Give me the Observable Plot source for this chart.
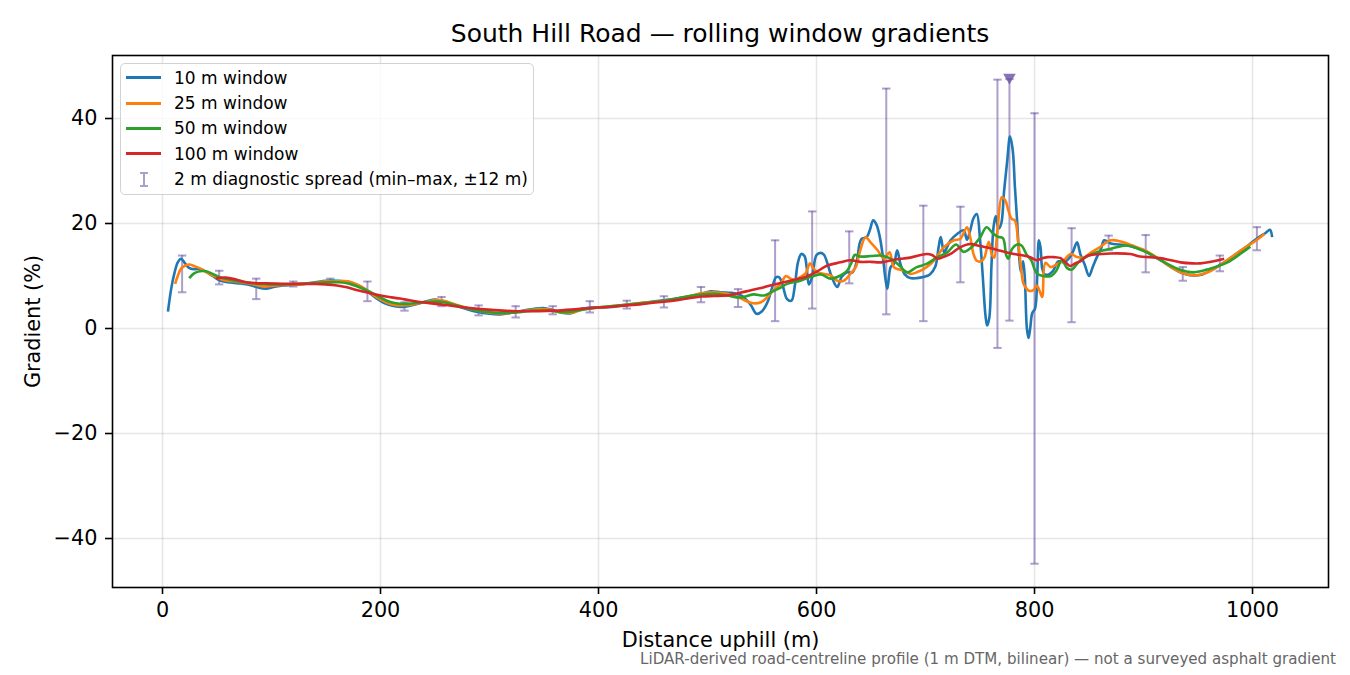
<!DOCTYPE html>
<html>
<head>
<meta charset="utf-8">
<script src="https://cdn.jsdelivr.net/npm/d3@7"></script>
<script src="https://cdn.jsdelivr.net/npm/@observablehq/plot@0.6"></script>
<style>
  html, body { margin: 0; padding: 0; background: #fff; }
  #wrap { position: relative; width: 1350px; height: 675px; font-family: "DejaVu Sans", sans-serif; overflow: hidden; }
  #title { position: absolute; left: 112px; width: 1216px; top: 21px; line-height: 25px; font-size: 25px; text-align: center; color: #000; white-space: nowrap; }
  #chart { position: absolute; left: 0; top: 45px; }
  #caption { position: absolute; right: 14px; top: 652px; line-height: 15px; font-size: 15.1px; color: #666; white-space: nowrap; }
  #legend { position: absolute; left: 120px; top: 63px; width: 414px; height: 132px; box-sizing: border-box; border: 1.6px solid #d2d2d2; border-radius: 5px; background: rgba(255,255,255,0.8); }
  .lg-line { position: absolute; left: 5px; width: 35px; height: 2.6px; }
  .lg-text { position: absolute; left: 53px; height: 20px; line-height: 20px; font-size: 17px; color: #000; white-space: nowrap; }
</style>
</head>
<body>
<div id="wrap">
  <div id="title"></div>
  <div id="chart"></div>
  <div id="legend"></div>
  <div id="caption"></div>
</div>
<script>
// ---------- data ----------
const titleText = "South Hill Road \u2014 rolling window gradients";
const xLabel = "Distance uphill (m)";
const yLabel = "Gradient (%)";
const captionText = "LiDAR-derived road-centreline profile (1 m DTM, bilinear) \u2014 not a surveyed asphalt gradient";

const xticks = [0, 200, 400, 600, 800, 1000];
const yticks = [-40, -20, 0, 20, 40];

const seriesNames = ["10 m window", "25 m window", "50 m window", "100 m window"];
const seriesColors = ["#1f77b4", "#ff7f0e", "#2ca02c", "#d62728"];
const spreadName = "2 m diagnostic spread (min\u2013max, \u00b112 m)";

// 10 m window [distance, gradient]
const w10 = [[5,3.2],[8,7.6],[11,10.6],[14,12.6],[17,13.3],[20,12.6],[24,11.6],[29,11.3],[34,11.4],[40,10.8],[46,10.0],[52,9.2],[60,8.8],[70,8.6],[80,8.3],[88,7.8],[95,7.6],[102,7.9],[110,8.2],[120,8.3],[130,8.5],[140,8.8],[150,9.1],[160,9.1],[170,8.9],[180,8.2],[188,7.1],[196,5.8],[204,4.8],[212,4.3],[220,4.1],[228,4.4],[236,4.8],[244,5.3],[250,5.5],[258,5.2],[266,4.6],[276,3.9],[288,3.2],[300,2.8],[310,2.7],[320,3.0],[330,3.4],[340,3.7],[349,3.9],[358,3.5],[366,3.0],[375,2.9],[384,3.7],[395,4.0],[411,4.1],[429,4.6],[445,5.0],[461,5.4],[480,6.0],[494,6.6],[503,7.1],[512,6.9],[522,6.8],[530,6.4],[535,5.6],[540,4.4],[545,2.8],[550,3.3],[555,5.0],[559,7.6],[563,9.8],[566,9.7],[569,8.2],[573,5.6],[577,5.3],[580,8.0],[583,12.6],[586,14.2],[589,13.8],[591,11.6],[593,8.4],[596,9.8],[600,14.0],[604,14.4],[607,14.0],[610,12.4],[614,9.8],[619,7.9],[623,9.8],[628,10.7],[633,10.7],[637,12.9],[641,17.0],[646,17.4],[649,18.8],[652,20.6],[655,19.8],[658,17.5],[661,13.5],[663,9.8],[665,7.6],[668,11.7],[671,12.3],[674,14.9],[677,12.3],[681,10.3],[686,9.6],[692,9.6],[698,9.8],[704,10.3],[709,11.8],[712,15.5],[714,17.4],[717,14.5],[720,15.6],[723,16.8],[729,18.0],[735,18.7],[738,16.9],[741,18.7],[744,21.0],[747,21.8],[750,17.0],[752.5,10.0],[755,2.5],[756.5,0.6],[758.5,2.0],[760.5,12.0],[762.5,19.5],[764.5,21.4],[767,19.0],[769.5,20.0],[772,26.0],[775,32.0],[777.5,36.6],[780,34.0],[782,27.0],[784,20.6],[786,13.5],[787.5,10.8],[789.5,12.8],[791,10.0],[793,0.0],[794.5,-1.8],[796,0.0],[798,3.0],[800.5,3.8],[802.5,10.0],[804,16.8],[805.5,15.5],[807,11.5],[809,10.4],[813,10.3],[817,11.0],[822,12.8],[827,12.6],[831,13.2],[835,14.5],[839,16.4],[842,14.2],[846,12.2],[850,10.0],[853,11.5],[857,13.5],[861,15.2],[864,16.8],[870,16.2],[878,16.0],[885,15.8],[893,15.4],[900,14.9],[908,14.0],[916,13.0],[923,12.0],[931,11.0],[938,10.4],[946,10.1],[954,10.3],[961,11.0],[969,12.0],[977,13.0],[985,14.2],[994,15.5],[1000,16.5],[1006,17.4],[1012,18.2],[1016,18.8],[1018,17.4]];

// 25 m window
const w25 = [[11.6,8.5],[14,10.0],[17,11.4],[21,12.0],[25,12.2],[30,11.8],[34,11.5],[40,10.8],[46,10.1],[55,9.3],[65,9.0],[75,8.7],[82,8.5],[92,8.0],[100,8.1],[110,8.3],[125,8.4],[140,8.7],[150,9.0],[160,9.0],[170,9.0],[180,8.2],[187,7.4],[196,6.0],[205,5.0],[213,4.5],[220,4.4],[230,4.6],[240,5.0],[250,5.4],[258,5.3],[270,4.5],[285,3.6],[300,3.0],[315,2.9],[330,3.3],[345,3.7],[355,3.6],[365,3.1],[375,3.0],[385,3.6],[400,4.0],[420,4.4],[440,4.9],[460,5.3],[480,6.0],[494,6.7],[506,6.9],[518,6.6],[530,5.8],[536,5.2],[542,4.8],[549,5.0],[555,6.0],[560,7.2],[567,8.5],[572,10.0],[576,9.5],[580,9.3],[585,9.8],[590,10.5],[594,12.4],[597,11.5],[601,10.7],[607,10.4],[613,10.1],[619,9.1],[625,9.1],[631,10.4],[636,11.7],[640,14.8],[645,17.4],[650,16.3],[656,14.9],[662,13.3],[667,14.5],[671,11.7],[680,11.0],[686,10.4],[692,10.7],[701,11.7],[708,13.0],[717,15.5],[726,16.8],[732,17.1],[738,19.3],[741,17.4],[744,14.2],[747,12.9],[751,12.8],[754,13.5],[758,16.5],[761,14.0],[763,13.5],[766,18.7],[770,25.0],[773,24.5],[776,22.5],[779,20.9],[782,20.6],[785,16.5],[788,11.0],[790,8.5],[795,7.2],[799,7.3],[802,8.2],[804,7.5],[807,6.0],[810,12.5],[815,11.7],[821,12.3],[827,13.0],[833,14.2],[839,13.6],[845,13.5],[852,14.5],[860,15.5],[870,16.8],[880,16.5],[890,15.8],[900,15.0],[910,13.8],[920,12.4],[931,11.0],[940,10.3],[950,10.2],[960,10.8],[970,12.0],[980,13.5],[990,15.0],[1000,16.3],[1006,17.2],[1011,18.0]];

// 50 m window
const w50 = [[24.5,9.6],[29,10.5],[34,10.9],[40,10.9],[46,10.4],[52,9.8],[62,9.3],[76,8.8],[90,8.5],[107,8.4],[125,8.5],[138,8.6],[150,8.8],[162,8.8],[172,8.5],[180,7.9],[190,7.0],[199,6.0],[207,5.2],[214,4.8],[225,4.7],[240,5.0],[255,5.1],[270,4.4],[285,3.6],[300,3.1],[320,3.0],[340,3.4],[355,3.4],[370,3.1],[385,3.6],[400,4.0],[430,4.6],[460,5.3],[484,6.2],[496,6.5],[506,6.6],[518,6.3],[530,5.9],[542,6.5],[552,6.3],[561,7.2],[567,7.8],[573,8.5],[585,9.1],[594,9.8],[604,10.3],[613,9.5],[622,10.1],[628,11.0],[632,12.5],[635,14.0],[640,13.7],[650,13.8],[659,13.9],[666,13.5],[671,12.9],[677,11.8],[683,10.7],[692,11.7],[701,12.3],[711,13.6],[720,14.5],[728,16.0],[735,14.6],[744,15.8],[750,17.3],[756,19.3],[761,18.3],[766,17.5],[771,17.2],[774,14.0],[776,13.3],[779,15.0],[784,16.0],[788,15.8],[793,14.0],[797,13.0],[802,10.5],[808,10.0],[815,10.0],[820,11.0],[825,13.0],[830,11.5],[834,11.2],[842,13.0],[851,14.0],[860,14.7],[870,15.2],[885,15.8],[895,15.2],[903,14.5],[915,13.1],[931,11.4],[946,10.7],[961,11.4],[977,12.6],[990,14.4],[998,15.6]];

// 100 m window
const w100 = [[49,9.5],[58,9.7],[68,9.3],[77,8.8],[95,8.6],[110,8.5],[125,8.5],[140,8.5],[150,8.4],[160,8.2],[168,7.9],[177,7.4],[187,6.9],[198,6.4],[208,6.0],[218,5.7],[229,5.3],[242,4.9],[255,4.6],[270,4.2],[282,3.9],[292,3.7],[305,3.5],[325,3.3],[345,3.3],[360,3.4],[375,3.6],[393,3.9],[410,4.1],[426,4.4],[438,4.6],[450,4.9],[460,5.1],[472,5.4],[484,5.8],[495,6.1],[506,6.2],[518,6.3],[530,6.8],[540,7.3],[549,7.7],[561,8.4],[576,9.1],[591,9.9],[600,10.8],[610,12.0],[622,12.6],[631,13.0],[640,12.7],[650,12.7],[659,12.6],[671,13.1],[686,13.5],[701,14.2],[706,14.0],[711,13.3],[716,13.6],[723,14.2],[732,15.5],[741,16.1],[750,15.7],[760,15.3],[769,14.8],[781,14.2],[790,13.9],[796,13.6],[802,13.0],[807,13.4],[812,13.6],[818,13.6],[824,13.4],[829,12.5],[833,11.9],[838,12.5],[842,12.8],[848,13.8],[855,14.1],[870,14.3],[888,14.2],[897,13.7],[905,13.6],[915,13.4],[925,13.0],[934,12.6],[945,12.4],[952,12.4],[962,12.7],[974,13.3]];

// 2 m diagnostic spread (min-max within ±12 m)
const spread_x  = [18, 52, 86, 120, 154, 188, 222, 256, 290, 324, 358, 392, 426, 460, 494, 528, 562, 596, 630, 664, 698, 732, 766, 777, 800, 834, 868, 902, 936, 970, 1004];
const spread_lo = [6.9, 8.4, 5.6, 8.0, 8.3, 5.2, 3.4, 4.25, 2.5, 2.1, 2.7, 3.05, 3.8, 4.0, 5.0, 4.1, 1.4, 3.8, 8.6, 2.7, 1.4, 8.8, -3.7, 1.5, -44.8, 1.2, 14.9, 10.7, 9.1, 10.9, 14.9];
const spread_hi = [13.9, 11.0, 9.5, 8.95, 9.5, 8.95, 5.0, 6.0, 4.4, 4.25, 4.25, 5.2, 5.3, 6.15, 7.9, 7.5, 16.8, 22.3, 18.5, 45.7, 23.4, 23.2, 47.4, 47.5, 41.0, 19.1, 17.7, 17.8, 11.7, 13.9, 19.3];
// off-scale spread marker
const clipped_x = [777];
const clipped_y = [47.5];

// ---------- build ----------
const spread = spread_x.map((x, i) => ({x, lo: spread_lo[i], hi: spread_hi[i]}));
const clipped = clipped_x.map((x, i) => ({x, y: clipped_y[i]}));
const series = [w10, w25, w50, w100];

const fmt = d => d < 0 ? "\u2212" + Math.abs(d) : String(d);
const spreadColor = "#6a51a3";

const capSymbol = {
  draw(ctx, size) {
    const w = Math.sqrt(size / Math.PI);
    ctx.moveTo(-w, 0);
    ctx.lineTo(w, 0);
  }
};
const downTriangle = {
  draw(ctx, size) {
    const r = Math.sqrt(size / Math.PI);
    ctx.moveTo(-r, -r * 0.87);
    ctx.lineTo(r, -r * 0.87);
    ctx.lineTo(0, r * 0.87);
    ctx.closePath();
  }
};

const lineMarks = series.map((s, i) => Plot.line(s, {
  x: d => d[0], y: d => d[1],
  stroke: seriesColors[i], strokeWidth: 2.6, curve: "catmull-rom",
  strokeLinejoin: "round", strokeLinecap: "butt"
}));

const chart = Plot.plot({
  width: 1350,
  height: 600,
  marginLeft: 112,
  marginRight: 22,
  marginTop: 10,
  marginBottom: 58,
  x: {domain: [-45.87, 1069.7]},
  y: {domain: [-49.33, 52.0]},
  style: {fontFamily: "DejaVu Sans", fontSize: "20.8px", color: "#000", background: "transparent", overflow: "visible"},
  marks: [
    Plot.gridX({ticks: xticks, stroke: "#b0b0b0", strokeOpacity: 0.3, strokeWidth: 1.6}),
    Plot.gridY({ticks: yticks, stroke: "#b0b0b0", strokeOpacity: 0.3, strokeWidth: 1.6}),
    Plot.ruleX(spread, {x: "x", y1: "lo", y2: "hi", stroke: spreadColor, strokeOpacity: 0.55, strokeWidth: 2}),
    Plot.dot(spread, {x: "x", y: "lo", symbol: capSymbol, r: 4.2, fill: "none", stroke: spreadColor, strokeOpacity: 0.55, strokeWidth: 2}),
    Plot.dot(spread, {x: "x", y: "hi", symbol: capSymbol, r: 4.2, fill: "none", stroke: spreadColor, strokeOpacity: 0.55, strokeWidth: 2}),
    ...lineMarks,
    Plot.dot(clipped, {x: "x", y: "y", symbol: downTriangle, r: 6.3, fill: spreadColor, fillOpacity: 0.8, stroke: "none"}),
    Plot.frame({stroke: "#000", strokeWidth: 1.6}),
    Plot.axisX({ticks: xticks, tickSize: 7, tickPadding: 8, tickFormat: fmt, label: null, strokeWidth: 1.6, stroke: "#000", fill: "#000"}),
    Plot.axisY({ticks: yticks, tickSize: 7, tickPadding: 8, tickFormat: fmt, label: null, strokeWidth: 1.6, stroke: "#000", fill: "#000"}),
    Plot.text([xLabel], {frameAnchor: "bottom", dy: 53, text: d => d, textAnchor: "middle", lineAnchor: "middle", fill: "#000", fontSize: 20.8}),
    Plot.text([yLabel], {frameAnchor: "left", dx: -79, rotate: -90, text: d => d, textAnchor: "middle", lineAnchor: "middle", fill: "#000", fontSize: 20.8})
  ]
});
document.getElementById("chart").appendChild(chart);

document.getElementById("title").textContent = titleText;
document.getElementById("caption").textContent = captionText;

// legend (HTML, inside axes)
const legend = document.getElementById("legend");
const rowCenters = [13.7, 39.3, 64.3, 89.7, 115.3];
seriesNames.forEach((name, i) => {
  const ln = document.createElement("div");
  ln.className = "lg-line";
  ln.style.top = (rowCenters[i] - 1.3) + "px";
  ln.style.background = seriesColors[i];
  legend.appendChild(ln);
  const tx = document.createElement("div");
  tx.className = "lg-text";
  tx.style.top = (rowCenters[i] - 10) + "px";
  tx.textContent = name;
  legend.appendChild(tx);
});
// error-bar icon
const eb = document.createElement("div");
eb.style.cssText = `position:absolute;left:19px;top:${rowCenters[4] - 7.5}px;width:8px;height:15px;box-sizing:border-box;border-top:2px solid ${spreadColor};border-bottom:2px solid ${spreadColor};opacity:0.55;`;
const ebv = document.createElement("div");
ebv.style.cssText = `position:absolute;left:3px;top:0;width:2px;height:100%;background:${spreadColor};`;
eb.appendChild(ebv);
legend.appendChild(eb);
const etx = document.createElement("div");
etx.className = "lg-text";
etx.style.top = (rowCenters[4] - 10) + "px";
etx.textContent = spreadName;
legend.appendChild(etx);
</script>
</body>
</html>
